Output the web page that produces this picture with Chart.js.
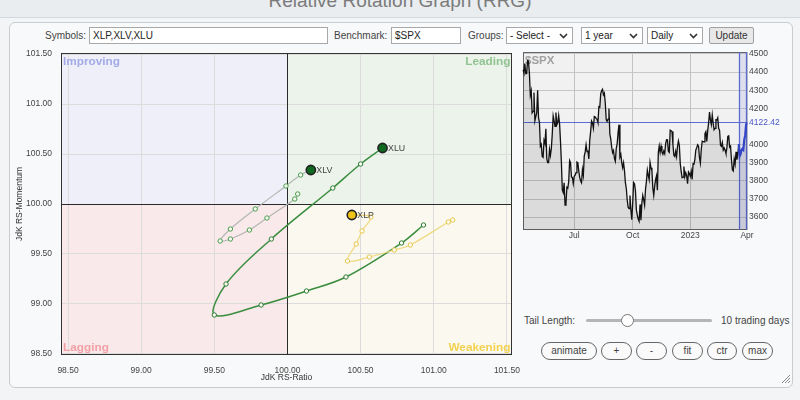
<!DOCTYPE html>
<html>
<head>
<meta charset="utf-8">
<script src="https://cdn.jsdelivr.net/npm/chart.js@4.4.1/dist/chart.umd.min.js"></script>
<style>
  body { margin: 0; width: 800px; height: 400px; overflow: hidden; position: relative;
         background: #f2f4f6; font-family: "Liberation Sans", Arial, sans-serif; }
  .abs { position: absolute; }
  #titlebar { left: 0; top: 0; width: 800px; height: 17px; background: #e9edf0;
              border-bottom: 1px solid #d2d8dd; overflow: hidden; }
  #titlebar div { position: absolute; left: 0; top: -9px; width: 800px; text-align: center;
                  font-size: 19px; line-height: 19px; color: #7b7b7b; }
  #panel { left: 9px; top: 22px; width: 782px; height: 364px; border: 1px solid #c8ccd0;
           border-radius: 6px; background: #f8f9fa; }
  .lbl { font-size: 10px; color: #444; line-height: 17px; top: 27px; white-space: nowrap; }
  .box { top: 27px; height: 17px; box-sizing: border-box; border: 1px solid #a8a8a8; background: #fff;
         font-size: 10px; line-height: 15px; color: #222; padding-left: 3px; white-space: nowrap; }
  .box svg { position: absolute; right: 4px; top: 5px; }
  .btn { top: 27px; height: 17px; box-sizing: border-box; border: 1px solid #a0a0a0; border-radius: 2px;
         background: #e8e8e8; font-size: 10px; line-height: 15px; color: #333; text-align: center; }
  .pill { top: 342px; height: 18px; box-sizing: border-box; border: 1px solid #666; border-radius: 9px;
          background: #fafafa; font-size: 10px; line-height: 16px; color: #444; text-align: center; }
  canvas { position: absolute; }
</style>
</head>
<body>
<div id="titlebar" class="abs"><div>Relative Rotation Graph (RRG)</div></div>
<div id="panel" class="abs"></div>

<div class="abs lbl" style="left:45px">Symbols:</div>
<div class="abs box" style="left:89px;width:239px">XLP,XLV,XLU</div>
<div class="abs lbl" style="left:334px">Benchmark:</div>
<div class="abs box" style="left:391px;width:70px">$SPX</div>
<div class="abs lbl" style="left:468px">Groups:</div>
<div class="abs box" style="left:506px;width:67px">- Select -<svg width="9" height="6"><polyline points="1,1 4.5,4.5 8,1" fill="none" stroke="#333" stroke-width="1.6"/></svg></div>
<div class="abs box" style="left:581px;width:62px">1 year<svg width="9" height="6"><polyline points="1,1 4.5,4.5 8,1" fill="none" stroke="#333" stroke-width="1.6"/></svg></div>
<div class="abs box" style="left:647px;width:56px">Daily<svg width="9" height="6"><polyline points="1,1 4.5,4.5 8,1" fill="none" stroke="#333" stroke-width="1.6"/></svg></div>
<div class="abs btn" style="left:709px;width:45px">Update</div>

<canvas id="rrg" width="520" height="345" style="left:0;top:45px"></canvas>
<canvas id="spx" width="285" height="200" style="left:515px;top:45px"></canvas>

<div class="abs" style="left:524px;top:313px;font-size:10px;line-height:16px;color:#444">Tail Length:</div>
<div class="abs" style="left:586px;top:319px;width:126px;height:3px;background:#b5b5b5;border-radius:2px"></div>
<div class="abs" style="left:621px;top:314px;width:11px;height:11px;border:1px solid #777;border-radius:50%;background:#fff"></div>
<div class="abs" style="left:721px;top:313px;font-size:10px;line-height:16px;color:#444">10 trading days</div>
<div class="abs pill" style="left:541px;width:56px">animate</div>
<div class="abs pill" style="left:601px;width:31px">+</div>
<div class="abs pill" style="left:636px;width:31px">-</div>
<div class="abs pill" style="left:672px;width:31px">fit</div>
<div class="abs pill" style="left:707px;width:30px">ctr</div>
<div class="abs pill" style="left:742px;width:31px">max</div>
<svg class="abs" style="left:781px;top:374px" width="10" height="10">
  <line x1="9" y1="1" x2="1" y2="9" stroke="#888"/>
  <line x1="9" y1="4" x2="4" y2="9" stroke="#888"/>
  <line x1="9" y1="7" x2="7" y2="9" stroke="#888"/>
</svg>

<script>
// RRG tails, oldest -> newest, last point is the head
const symbols = ['XLP', 'XLV', 'XLU'];
const xlpRatio    = [101.13, 101.10, 100.84, 100.73, 100.56, 100.41, 100.47, 100.51, 100.57, 100.44];
const xlpMomentum = [99.84, 99.82, 99.59, 99.54, 99.47, 99.43, 99.60, 99.73, 99.87, 99.89];
const xlvRatio    = [100.07, 100.05, 99.86, 99.74, 99.61, 99.54, 99.61, 99.78, 99.99, 100.09, 100.16];
const xlvMomentum = [100.10, 100.05, 99.86, 99.74, 99.65, 99.63, 99.75, 99.95, 100.18, 100.29, 100.34];
const xluRatio    = [100.93, 100.78, 100.40, 100.13, 99.82, 99.50, 99.58, 99.89, 100.31, 100.50, 100.65];
const xluMomentum = [99.79, 99.61, 99.27, 99.13, 98.99, 98.89, 99.20, 99.65, 100.16, 100.40, 100.56];
const rrgTicks = [98.5, 99, 99.5, 100, 100.5, 101, 101.5];
const quadrantNames = ['Improving', 'Leading', 'Lagging', 'Weakening'];

// $SPX daily closes
const benchmark = '$SPX';
const spxDates = [
  '2022-04-11','2022-04-12','2022-04-13','2022-04-14','2022-04-18','2022-04-19','2022-04-20','2022-04-21','2022-04-22','2022-04-25','2022-04-26','2022-04-27','2022-04-28','2022-04-29',
  '2022-05-02','2022-05-03','2022-05-04','2022-05-05','2022-05-06','2022-05-09','2022-05-10','2022-05-11','2022-05-12','2022-05-13','2022-05-16','2022-05-17','2022-05-18','2022-05-19','2022-05-20','2022-05-23','2022-05-24','2022-05-25','2022-05-26','2022-05-27','2022-05-31',
  '2022-06-01','2022-06-02','2022-06-03','2022-06-06','2022-06-07','2022-06-08','2022-06-09','2022-06-10','2022-06-13','2022-06-14','2022-06-15','2022-06-16','2022-06-17','2022-06-21','2022-06-22','2022-06-23','2022-06-24','2022-06-27','2022-06-28','2022-06-29','2022-06-30',
  '2022-07-01','2022-07-05','2022-07-06','2022-07-07','2022-07-08','2022-07-11','2022-07-12','2022-07-13','2022-07-14','2022-07-15','2022-07-18','2022-07-19','2022-07-20','2022-07-21','2022-07-22','2022-07-25','2022-07-26','2022-07-27','2022-07-28','2022-07-29',
  '2022-08-01','2022-08-02','2022-08-03','2022-08-04','2022-08-05','2022-08-08','2022-08-09','2022-08-10','2022-08-11','2022-08-12','2022-08-15','2022-08-16','2022-08-17','2022-08-18','2022-08-19','2022-08-22','2022-08-23','2022-08-24','2022-08-25','2022-08-26','2022-08-29','2022-08-30','2022-08-31',
  '2022-09-01','2022-09-02','2022-09-06','2022-09-07','2022-09-08','2022-09-09','2022-09-12','2022-09-13','2022-09-14','2022-09-15','2022-09-16','2022-09-19','2022-09-20','2022-09-21','2022-09-22','2022-09-23','2022-09-26','2022-09-27','2022-09-28','2022-09-29','2022-09-30',
  '2022-10-03','2022-10-04','2022-10-05','2022-10-06','2022-10-07','2022-10-10','2022-10-11','2022-10-12','2022-10-13','2022-10-14','2022-10-17','2022-10-18','2022-10-19','2022-10-20','2022-10-21','2022-10-24','2022-10-25','2022-10-26','2022-10-27','2022-10-28','2022-10-31',
  '2022-11-01','2022-11-02','2022-11-03','2022-11-04','2022-11-07','2022-11-08','2022-11-09','2022-11-10','2022-11-11','2022-11-14','2022-11-15','2022-11-16','2022-11-17','2022-11-18','2022-11-21','2022-11-22','2022-11-23','2022-11-25','2022-11-28','2022-11-29','2022-11-30',
  '2022-12-01','2022-12-02','2022-12-05','2022-12-06','2022-12-07','2022-12-08','2022-12-09','2022-12-12','2022-12-13','2022-12-14','2022-12-15','2022-12-16','2022-12-19','2022-12-20','2022-12-21','2022-12-22','2022-12-23','2022-12-27','2022-12-28','2022-12-29','2022-12-30',
  '2023-01-03','2023-01-04','2023-01-05','2023-01-06','2023-01-09','2023-01-10','2023-01-11','2023-01-12','2023-01-13','2023-01-17','2023-01-18','2023-01-19','2023-01-20','2023-01-23','2023-01-24','2023-01-25','2023-01-26','2023-01-27','2023-01-30','2023-01-31',
  '2023-02-01','2023-02-02','2023-02-03','2023-02-06','2023-02-07','2023-02-08','2023-02-09','2023-02-10','2023-02-13','2023-02-14','2023-02-15','2023-02-16','2023-02-17','2023-02-21','2023-02-22','2023-02-23','2023-02-24','2023-02-27','2023-02-28',
  '2023-03-01','2023-03-02','2023-03-03','2023-03-06','2023-03-07','2023-03-08','2023-03-09','2023-03-10','2023-03-13','2023-03-14','2023-03-15','2023-03-16','2023-03-17','2023-03-20','2023-03-21','2023-03-22','2023-03-23','2023-03-24','2023-03-27','2023-03-28','2023-03-29','2023-03-30','2023-03-31',
  '2023-04-03'
];
const spxClose = [
  4413, 4397, 4447, 4392, 4392, 4463, 4460, 4394, 4272, 4296, 4175, 4183, 4288, 4132,
  4155, 4175, 4300, 4147, 4123, 3991, 4001, 3935, 3930, 4024, 4008, 4088, 3923, 3901, 3901, 3974, 3941, 3979, 4058, 4158, 4132,
  4101, 4177, 4109, 4121, 4161, 4116, 4018, 3901, 3750, 3735, 3790, 3667, 3675, 3765, 3760, 3796, 3912, 3900, 3821, 3819, 3785,
  3825, 3831, 3845, 3903, 3899, 3854, 3819, 3801, 3790, 3863, 3831, 3937, 3960, 3999, 3962, 3967, 3921, 4024, 4073, 4130,
  4119, 4091, 4155, 4152, 4145, 4140, 4122, 4210, 4207, 4280, 4297, 4305, 4275, 4284, 4228, 4138, 4128, 4141, 4199, 4058, 4031, 3986, 3955,
  3967, 3924, 3908, 3980, 4006, 4067, 4110, 3932, 3946, 3901, 3873, 3900, 3856, 3790, 3758, 3693, 3655, 3647, 3719, 3640, 3586,
  3678, 3791, 3783, 3745, 3640, 3612, 3589, 3577, 3670, 3583, 3677, 3720, 3695, 3666, 3753, 3797, 3859, 3830, 3807, 3901, 3872,
  3856, 3760, 3720, 3771, 3807, 3828, 3749, 3956, 3993, 3957, 3992, 3959, 3947, 3965, 3950, 4004, 4027, 4026, 3964, 3958, 4080,
  4077, 4072, 3999, 3941, 3934, 3963, 3934, 3991, 4020, 3996, 3896, 3852, 3818, 3821, 3879, 3823, 3845, 3829, 3784, 3849, 3840,
  3825, 3853, 3808, 3895, 3893, 3919, 3970, 3983, 3999, 3991, 3929, 3898, 3973, 4019, 4017, 4016, 4060, 4071, 4018, 4077,
  4119, 4180, 4136, 4111, 4164, 4118, 4082, 4090, 4137, 4136, 4148, 4090, 4079, 3997, 3991, 4012, 3970, 3982, 3970,
  3951, 3982, 4045, 4048, 3986, 3992, 3918, 3862, 3855, 3920, 3892, 3960, 3917, 3951, 4002, 3937, 3948, 3971, 3977, 3971, 4028, 4051, 4109,
  4122.42
];
const spxTickDates = ['2022-07-01', '2022-10-03', '2023-01-03', '2023-04-03'];
const spxTickText = ['Jul', 'Oct', '2023', 'Apr'];
const spxYTicks = [3600, 3700, 3800, 3900, 4000, 4200, 4300, 4400, 4500];
const tailLength = 10;

const FONT = '"Liberation Sans", Arial, sans-serif';
Chart.defaults.font.family = FONT;
Chart.defaults.font.size = 8.5;
Chart.defaults.color = '#444';

const colors = {
  XLP: { line: '#f0d97f', marker: '#e8c748', head: '#f1c317' },
  XLV: { line: '#b3b7b3', marker: '#4a9d4a', head: '#0f691e' },
  XLU: { line: '#3a8d3f', marker: '#2e7c33', head: '#0f691e' }
};
const quadFill = ['#eeeff8', '#ebf3ea', '#f9e9ea', '#faf8ef'];
const quadText = ['#a3aae6', '#92c392', '#f1a0a6', '#f3d24f'];

const series = [
  { name: 'XLP', ratio: xlpRatio, momentum: xlpMomentum },
  { name: 'XLV', ratio: xlvRatio, momentum: xlvMomentum },
  { name: 'XLU', ratio: xluRatio, momentum: xluMomentum }
];
const toPoints = s => s.ratio.map((r, i) => ({ x: r, y: s.momentum[i] }));

// pin the plot area: drop the extra room Chart.js keeps for overhanging labels
const pinX = h => s => { s.height = h; s.paddingLeft = 0; s.paddingRight = 0; };
const pinY = w => s => { s.width = w; s.paddingTop = 0; s.paddingBottom = 0; };

// heads first so they are drawn on top of the tails
const headSets = series.map(s => ({
  label: s.name,
  data: [toPoints(s).at(-1)],
  showLine: false,
  pointRadius: 4.6,
  pointBorderWidth: 1.6,
  pointBorderColor: '#222',
  pointBackgroundColor: colors[s.name].head
}));
const tailSets = series.map(s => {
  const n = s.ratio.length;
  return {
    label: s.name + ' tail',
    data: toPoints(s),
    showLine: true,
    tension: 0.35,
    borderColor: colors[s.name].line,
    borderWidth: s.name === 'XLU' ? 1.5 : 1.2,
    pointRadius: ctx => (ctx.dataIndex === n - 1 ? 0 : 2.2),
    pointBorderWidth: 1,
    pointBorderColor: colors[s.name].marker,
    pointBackgroundColor: '#fbfbf6'
  };
});

const rrgPlugin = {
  id: 'rrgDecor',
  beforeDraw(chart) {
    const { ctx, chartArea: a, scales: { x, y } } = chart;
    const cx = x.getPixelForValue(100), cy = y.getPixelForValue(100);
    ctx.save();
    ctx.fillStyle = quadFill[0]; ctx.fillRect(a.left, a.top, cx - a.left, cy - a.top);
    ctx.fillStyle = quadFill[1]; ctx.fillRect(cx, a.top, a.right - cx, cy - a.top);
    ctx.fillStyle = quadFill[2]; ctx.fillRect(a.left, cy, cx - a.left, a.bottom - cy);
    ctx.fillStyle = quadFill[3]; ctx.fillRect(cx, cy, a.right - cx, a.bottom - cy);
    ctx.restore();
  },
  beforeDatasetsDraw(chart) {
    const { ctx, chartArea: a, scales: { x, y } } = chart;
    const cx = Math.round(x.getPixelForValue(100)) + 0.5, cy = Math.round(y.getPixelForValue(100)) + 0.5;
    ctx.save();
    ctx.strokeStyle = '#2a2a2a';
    ctx.lineWidth = 1;
    ctx.beginPath();
    ctx.moveTo(cx, a.top); ctx.lineTo(cx, a.bottom);
    ctx.moveTo(a.left, cy); ctx.lineTo(a.right, cy);
    ctx.stroke();
    ctx.strokeStyle = '#333';
    ctx.strokeRect(Math.round(a.left) + 0.5, Math.round(a.top) + 0.5, Math.round(a.right - a.left) - 1, Math.round(a.bottom - a.top) - 1);

    ctx.font = 'bold 11.8px ' + FONT;
    ctx.textBaseline = 'alphabetic';
    ctx.fillStyle = quadText[0]; ctx.textAlign = 'left';
    ctx.fillText(quadrantNames[0], a.left + 2, a.top + 11.5);
    ctx.fillStyle = quadText[1]; ctx.textAlign = 'right';
    ctx.fillText(quadrantNames[1], a.right - 1.5, a.top + 11.5);
    ctx.fillStyle = quadText[2]; ctx.textAlign = 'left';
    ctx.fillText(quadrantNames[2], a.left + 2, a.bottom - 4);
    ctx.fillStyle = quadText[3]; ctx.textAlign = 'right';
    ctx.fillText(quadrantNames[3], a.right - 1.5, a.bottom - 4);
    ctx.restore();
  },
  afterDatasetsDraw(chart) {
    const { ctx } = chart;
    ctx.save();
    ctx.font = '8.8px ' + FONT;
    ctx.fillStyle = '#444';
    ctx.textAlign = 'left';
    ctx.textBaseline = 'middle';
    headSets.forEach((ds, i) => {
      const pt = chart.getDatasetMeta(i).data[0];
      ctx.fillText(ds.label, pt.x + 5.5, pt.y + 0.5);
    });
    ctx.restore();
  }
};

new Chart(document.getElementById('rrg'), {
  type: 'scatter',
  data: { datasets: headSets.concat(tailSets) },
  options: {
    responsive: false,
    animation: false,
    events: [],
    layout: { padding: { top: 8, right: 8, left: 0, bottom: 0 } },
    plugins: { legend: { display: false }, tooltip: { enabled: false } },
    scales: {
      x: {
        type: 'linear', min: 98.452, max: 101.535,
        afterBuildTicks: s => { s.ticks = rrgTicks.map(v => ({ value: v })); },
        afterFit: pinX(35),
        grid: { color: '#dcdcdc', drawTicks: false },
        border: { display: false },
        ticks: { padding: 10.5, maxRotation: 0, autoSkip: false, callback: v => v.toFixed(2) },
        title: { display: true, text: 'JdK RS-Ratio', color: '#333', padding: { top: 0, bottom: 7 } }
      },
      y: {
        type: 'linear', min: 98.49, max: 101.51,
        afterBuildTicks: s => { s.ticks = rrgTicks.map(v => ({ value: v })); },
        afterFit: pinY(61),
        grid: { color: '#dcdcdc', drawTicks: false },
        border: { display: false },
        ticks: { padding: 9, autoSkip: false, callback: v => v.toFixed(2) },
        title: { display: true, text: 'JdK RS-Momentum', color: '#333', padding: { top: 15, bottom: 0 } }
      }
    }
  },
  plugins: [rrgPlugin]
});

// benchmark price panel
const lastClose = spxClose.at(-1);
const tailStart = spxClose.length - tailLength;

const spxPlugin = {
  id: 'spxDecor',
  beforeDraw(chart) {
    const { ctx, chartArea: a } = chart;
    ctx.save();
    ctx.fillStyle = '#f1f1f1';
    ctx.fillRect(a.left, a.top, a.right - a.left, a.bottom - a.top);
    ctx.restore();
  },
  beforeDatasetsDraw(chart) {
    const { ctx, chartArea: a, scales: { x } } = chart;
    const x1 = Math.round(x.getPixelForValue(tailStart)) + 0.5;
    const x2 = Math.round(a.right) - 0.5;
    ctx.save();
    ctx.fillStyle = 'rgba(90,110,220,0.13)';
    ctx.fillRect(x1, a.top, x2 - x1, a.bottom - a.top);
    ctx.strokeStyle = '#666';
    ctx.lineWidth = 1;
    ctx.strokeRect(Math.round(a.left) + 0.5, Math.round(a.top) + 0.5, Math.round(a.right - a.left) - 1, Math.round(a.bottom - a.top) - 1);
    ctx.strokeStyle = '#5b6bd4';
    ctx.lineWidth = 1.3;
    ctx.beginPath();
    ctx.moveTo(x1, a.top); ctx.lineTo(x1, a.bottom);
    ctx.moveTo(x2, a.top); ctx.lineTo(x2, a.bottom);
    ctx.stroke();
    ctx.font = 'bold 11.5px ' + FONT;
    ctx.fillStyle = '#a0a0a0';
    ctx.textBaseline = 'top';
    ctx.fillText(benchmark, a.left + 2, a.top + 3);
    ctx.restore();
  }
};

new Chart(document.getElementById('spx'), {
  type: 'line',
  data: {
    labels: spxDates,
    datasets: [{
      data: spxClose,
      borderColor: '#111',
      borderWidth: 1.3,
      pointRadius: 0,
      tension: 0,
      fill: 'start',
      backgroundColor: 'rgba(0,0,0,0.09)',
      segment: {
        borderColor: c => (c.p0DataIndex >= tailStart ? '#3444c8' : '#111'),
        borderWidth: c => (c.p0DataIndex >= tailStart ? 2.2 : 1.3)
      }
    }]
  },
  options: {
    responsive: false,
    animation: false,
    events: [],
    layout: { padding: { left: 8, top: 7, right: 0, bottom: 0 } },
    plugins: { legend: { display: false }, tooltip: { enabled: false } },
    scales: {
      x: {
        type: 'category',
        afterBuildTicks: s => { s.ticks = spxTickDates.map(d => ({ value: spxDates.indexOf(d) })); },
        afterFit: pinX(15),
        grid: { color: '#c2c2c2', drawTicks: false },
        border: { display: false },
        ticks: { padding: 1, autoSkip: false, maxRotation: 0, callback: (v, i) => spxTickText[i] }
      },
      y: {
        position: 'right', min: 3529, max: 4511,
        afterBuildTicks: s => { s.ticks = spxYTicks.concat(lastClose).sort((p, q) => p - q).map(v => ({ value: v })); },
        afterFit: pinY(53),
        grid: { color: c => (c.tick && c.tick.value === lastClose ? '#5b6bd4' : '#c6c6c6'), drawTicks: false },
        border: { display: false },
        ticks: {
          padding: 2, autoSkip: false,
          color: c => (c.tick && c.tick.value === lastClose ? '#4a58c8' : '#444'),
          callback: v => (v % 1 ? v.toFixed(2) : String(v))
        }
      }
    }
  },
  plugins: [spxPlugin]
});
</script>
</body>
</html>
